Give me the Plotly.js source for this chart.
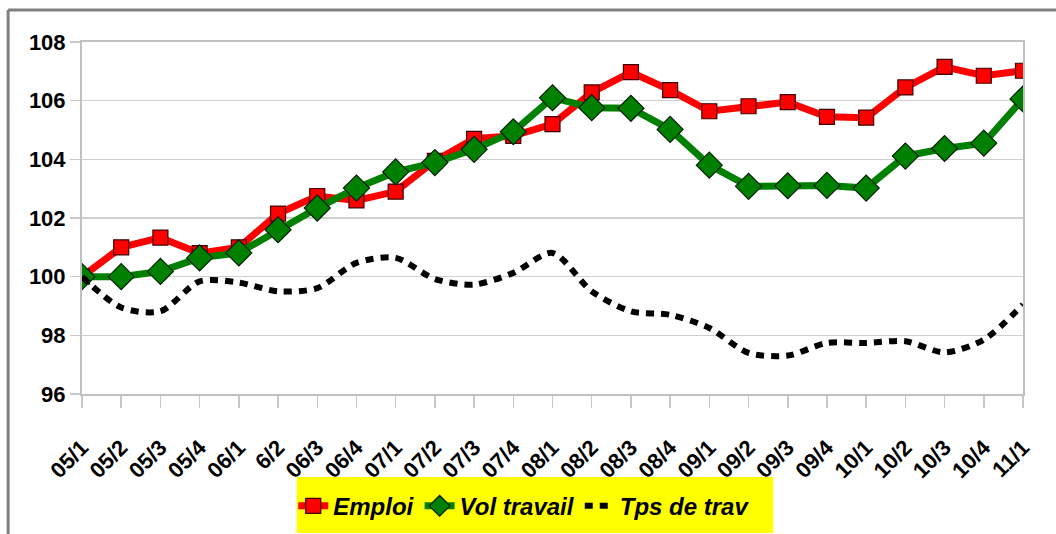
<!DOCTYPE html>
<html>
<head>
<meta charset="utf-8">
<script src="https://cdn.plot.ly/plotly-3.0.1.min.js"></script>
<style>html,body{margin:0;padding:0;background:#fff;}#chart{width:1056px;height:534px;}</style>
</head>
<body>
<div id="chart"></div>
<script>
const categories = ["05/1","05/2","05/3","05/4","06/1","6/2","06/3","06/4","07/1","07/2","07/3","07/4","08/1","08/2","08/3","08/4","09/1","09/2","09/3","09/4","10/1","10/2","10/3","10/4","11/1"];
const emploi = [100.0,101.0,101.33,100.8,101.0,102.15,102.75,102.6,102.9,103.95,104.7,104.8,105.2,106.28,106.97,106.36,105.64,105.81,105.95,105.45,105.42,106.45,107.15,106.85,107.02];
const volTravail = [100.0,100.0,100.18,100.64,100.81,101.6,102.34,103.02,103.57,103.89,104.34,104.94,106.1,105.76,105.74,105.02,103.8,103.08,103.1,103.11,103.02,104.11,104.37,104.55,106.06];
const tpsTrav = [100.0,98.95,98.82,99.84,99.8,99.5,99.61,100.47,100.64,99.92,99.73,100.13,100.81,99.5,98.82,98.7,98.25,97.4,97.31,97.74,97.74,97.8,97.42,97.85,99.05];
const seriesNames = ["Emploi","Vol travail","Tps de trav"];
const yTicks = [96,98,100,102,104,106,108];

const traces = [
  {x: categories, y: emploi, name: seriesNames[0], type: 'scatter', mode: 'lines+markers',
   line: {color: '#ff0000', width: 7},
   marker: {symbol: 'square', size: 15, color: '#ff0000', line: {color: '#400000', width: 1.2}}},
  {x: categories, y: volTravail, name: seriesNames[1], type: 'scatter', mode: 'lines+markers',
   line: {color: '#008000', width: 7},
   marker: {symbol: 'diamond', size: 20, color: '#008000', line: {color: '#002000', width: 1.2}}},
  {x: categories, y: tpsTrav, name: seriesNames[2], type: 'scatter', mode: 'lines',
   line: {color: '#000000', width: 6, dash: '8px,7px', shape: 'spline', smoothing: 0.8}}
];

const layout = {
  width: 1056, height: 534,
  margin: {l: 82, r: 33, t: 42, b: 140, autoexpand: false},
  paper_bgcolor: '#ffffff', plot_bgcolor: '#ffffff',
  font: {family: 'Liberation Sans, Arial, sans-serif', color: '#000'},
  showlegend: true,
  legend: {orientation: 'h', x: 0.47, xanchor: 'center', y: -0.255, yanchor: 'top',
    bgcolor: 'rgba(0,0,0,0)', borderwidth: 0,
    font: {size: 24, weight: 'bold', style: 'italic', color: '#000'},
    itemwidth: 30, tracegroupgap: 0},
  xaxis: {type: 'category', tickangle: -45, range: [0, categories.length - 1], automargin: false,
    tickfont: {size: 22, weight: 'bold'}, showgrid: false, ticklabelstandoff: 18,
    showline: true, linecolor: '#c0c0c0', linewidth: 2, mirror: true,
    ticks: 'outside', ticklen: 12, tickcolor: '#c8c8c8', tickwidth: 1.5, zeroline: false},
  yaxis: {range: [96, 108], tickvals: yTicks, ticktext: yTicks.map(String), automargin: false,
    tickfont: {size: 22, weight: 'bold'}, showgrid: true, gridcolor: '#cfcfcf', gridwidth: 1.5,
    showline: true, linecolor: '#c0c0c0', linewidth: 2, mirror: true,
    ticks: 'outside', ticklen: 10, tickcolor: '#c8c8c8', tickwidth: 1.5, zeroline: false},
  shapes: [
    {type: 'rect', xref: 'paper', yref: 'paper', x0: 0.2282, x1: 0.7346, y0: -0.2358, y1: -0.3949,
     fillcolor: '#ffff00', line: {width: 0}, layer: 'below'},
    {type: 'line', xref: 'paper', yref: 'paper', x0: -0.0785, x1: 1.04, y0: 1.0909, y1: 1.0909, line: {color: '#808080', width: 3}},
    {type: 'line', xref: 'paper', yref: 'paper', x0: -0.0785, x1: -0.0785, y0: 1.0909, y1: -0.4, line: {color: '#808080', width: 3}}
  ]
};

Plotly.newPlot('chart', traces, layout, {displayModeBar: false, staticPlot: true});
</script>
</body>
</html>
